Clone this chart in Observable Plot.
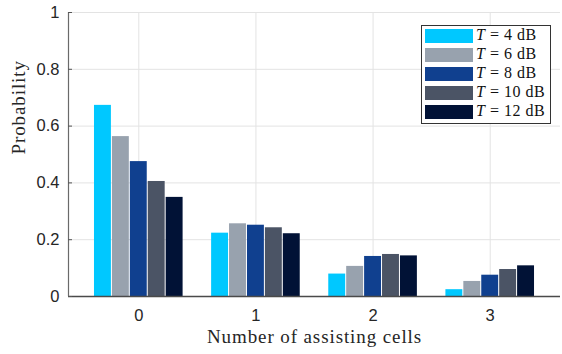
<!DOCTYPE html>
<html><head>
<meta charset="utf-8">
<script src="https://cdn.jsdelivr.net/npm/d3@7"></script>
<script src="https://cdn.jsdelivr.net/npm/@observablehq/plot@0.6"></script>
<style>
body{margin:0;background:#fff}
#wrap{position:relative;width:562px;height:354px}
#legend{position:absolute;left:421px;top:25px;width:128px;height:97px;border:1px solid #333;background:#fff;font-family:"Liberation Serif",serif;font-size:16px;letter-spacing:0.5px;color:#111}
.row{position:absolute;left:3px;height:14px}
.sw{position:absolute;left:0;top:0;width:48px;height:14px}
.lt{position:absolute;left:51px;top:-3px;white-space:nowrap}
</style></head><body><div id="wrap"></div>
<script>
const cells = [0, 1, 2, 3];
const thresholdsDb = ["4", "6", "8", "10", "12"];
const colors = ["#00c8ff", "#98a2ae", "#10408f", "#4b5465", "#011236"];
const valuesT4 = [0.673, 0.223, 0.079, 0.024];
const valuesT6 = [0.563, 0.256, 0.106, 0.053];
const valuesT8 = [0.475, 0.251, 0.141, 0.075];
const valuesT10 = [0.405, 0.242, 0.148, 0.095];
const valuesT12 = [0.349, 0.221, 0.143, 0.108];
const yTicks = [0, 0.2, 0.4, 0.6, 0.8, 1];

const series = [valuesT4, valuesT6, valuesT8, valuesT10, valuesT12];
const data = [];
series.forEach((vals, si) => vals.forEach((v, ci) => data.push({cell: cells[ci], s: si, v})));
const w = 0.153;

const chart = Plot.plot({
  width: 562, height: 354,
  marginLeft: 68, marginRight: 2, marginTop: 12, marginBottom: 58,
  style: {fontFamily: "'Liberation Sans', Arial, sans-serif", fontSize: "16px", color: "#262626", background: "#fff"},
  x: {domain: [-0.6, 3.6]},
  y: {domain: [0, 1]},
  marks: [
    Plot.gridY(yTicks, {stroke: "#e3e3e3", strokeOpacity: 1}),
    Plot.gridX(cells, {stroke: "#e3e3e3", strokeOpacity: 1}),
    Plot.rect(data, {
      x1: d => d.cell + (d.s - 2.5) * w,
      x2: d => d.cell + (d.s - 1.5) * w,
      y1: 0, y2: "v",
      fill: d => colors[d.s],
      insetLeft: 0.5, insetRight: 0.5
    }),
    Plot.ruleY([0], {stroke: "#4a4a4a", strokeWidth: 1.5}),
    Plot.ruleX([-0.6], {stroke: "#6a6a6a", strokeWidth: 1.2}),
    Plot.axisY(yTicks, {tickSize: -4, tickPadding: 13, tickFormat: d => String(d), label: null, stroke: "#555", fill: "#262626", fontSize: 16.5}),
    Plot.axisX(cells, {tickSize: 0, tickPadding: 13, tickFormat: d => String(d), label: null, fill: "#262626", fontSize: 16.5}),
    Plot.text(["Probability"], {frameAnchor: "left", dx: -50, rotate: -90, fontFamily: "'Liberation Serif', serif", fontSize: 19, fill: "#262626"}),
    Plot.text(["Number of assisting cells"], {frameAnchor: "bottom", dy: 46, fontFamily: "'Liberation Serif', serif", fontSize: 19, fill: "#262626"})
  ]
});
chart.querySelectorAll("text").forEach(t => {
  if (t.textContent === "Number of assisting cells" || t.textContent === "Probability") t.style.letterSpacing = "0.9px";
});
const wrap = document.getElementById("wrap");
wrap.appendChild(chart);

const legend = document.createElement("div");
legend.id = "legend";
thresholdsDb.forEach((t, i) => {
  const row = document.createElement("div");
  row.className = "row";
  row.style.top = (3 + i * 19) + "px";
  row.innerHTML = `<div class="sw" style="background:${colors[i]}"></div><div class="lt"><i>T</i> = ${t} dB</div>`;
  legend.appendChild(row);
});
wrap.appendChild(legend);
</script>
</body></html>
